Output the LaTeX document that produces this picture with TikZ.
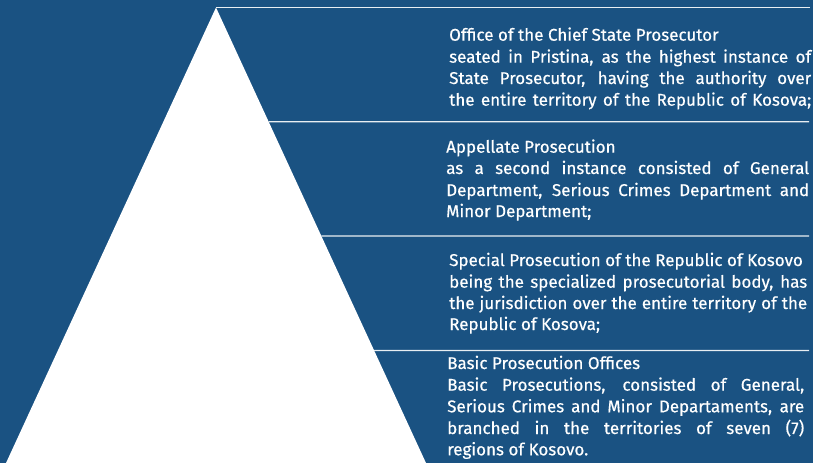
\documentclass[tikz,border=0pt]{standalone}
\usepackage{fontspec}
\setmainfont{Fira Sans}[FakeBold=0.5]
\definecolor{bgblue}{RGB}{26,82,130}
\newcommand\justln[2]{\makebox[#1][s]{#2}}
\begin{document}
\begin{tikzpicture}[x=1pt,y=-1pt,
  txt/.style={anchor=base west, inner sep=0pt, text=white, font=\fontsize{17}{20}\selectfont},
  rulel/.style={draw=white!90!bgblue, line width=1.3pt}]
\useasboundingbox (0,0) rectangle (813,463);
\fill[bgblue] (0,0) rectangle (813,463);
\coordinate (apex) at (216,7.5);
\coordinate (bl) at (6,463);
\coordinate (br) at (426,463);
\fill[white] (apex) -- (bl) -- (br) -- cycle;
% separator lines
\coordinate (e1) at (810,7.5);
\path (intersection cs: first line={(apex)--(br)}, second line={(0,121.7)--(10,121.7)}) coordinate (s2);
\path (intersection cs: first line={(apex)--(br)}, second line={(0,236)--(10,236)}) coordinate (s3);
\path (intersection cs: first line={(apex)--(br)}, second line={(0,350.5)--(10,350.5)}) coordinate (s4);
\coordinate (e2) at (809,121.7);
\coordinate (e3) at (809,236);
\coordinate (e4) at (809,350.5);
\draw[rulel] (apex) -- (e1);
\draw[rulel] (s2) -- (e2);
\draw[rulel] (s3) -- (e3);
\draw[rulel] (s4) -- (e4);
% block 1
\node[txt] (a1) at (449,40.7) {Office of the Chief State Prosecutor};
\node[txt] (a2) at (449,62.7) {\justln{362pt}{seated in Pristina, as the highest instance of}};
\node[txt] (a3) at (449,84) {\justln{362pt}{State Prosecutor, having the authority over}};
\node[txt] (a4) at (449,105.7) {\justln{362pt}{the entire territory of the Republic of Kosova;}};
% block 2
\node[txt] (b1) at (446,152.7) {Appellate Prosecution};
\node[txt] (b2) at (446,174) {\justln{363pt}{as a second instance consisted of General}};
\node[txt] (b3) at (446,196) {\justln{363pt}{Department, Serious Crimes Department and}};
\node[txt] (b4) at (446,217) {Minor Department;};
% block 3
\node[txt] (c1) at (449,266) {Special Prosecution of the Republic of Kosovo};
\node[txt] (c2) at (449,287.7) {\justln{358pt}{being the specialized prosecutorial body, has}};
\node[txt] (c3) at (449,309) {\justln{358pt}{the jurisdiction over the entire territory of the}};
\node[txt] (c4) at (449,330) {Republic of Kosova;};
% block 4
\node[txt] (d1) at (447,369) {Basic Prosecution Offices};
\node[txt] (d2) at (447,390.7) {\justln{357pt}{Basic Prosecutions, consisted of General,}};
\node[txt] (d3) at (447,412.3) {\justln{357pt}{Serious Crimes and Minor Departaments, are}};
\node[txt] (d4) at (447,434) {\justln{357pt}{branched in the territories of seven (7)}};
\node[txt] (d5) at (447,455.3) {regions of Kosovo.};
\end{tikzpicture}
\end{document}
